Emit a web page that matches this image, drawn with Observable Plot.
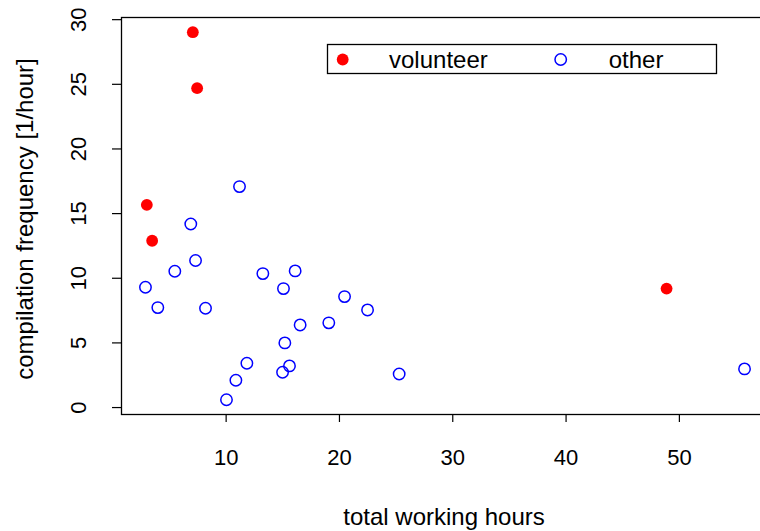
<!DOCTYPE html>
<html><head><meta charset="utf-8">
<script src="https://cdn.jsdelivr.net/npm/d3@7"></script>
<script src="https://cdn.jsdelivr.net/npm/@observablehq/plot@0.6"></script>
<style>
body{margin:0;background:#fff;overflow:hidden}
#chart{position:relative;width:760px;height:531px}
</style>
</head><body><div id="chart"></div>
<script>
// ---- data ----
const volunteerHours = [7.06, 7.44, 3.0, 3.47, 48.87];
const volunteerFreq  = [29.03, 24.7, 15.68, 12.9, 9.2];
const otherHours = [11.18, 6.88, 2.88, 5.47, 7.3, 3.97, 8.18, 13.24, 16.09, 15.06, 20.45, 22.48, 16.53, 19.06, 15.18, 11.83, 15.59, 14.98, 10.86, 10.03, 25.27, 55.75];
const otherFreq  = [17.09, 14.2, 9.3, 10.54, 11.37, 7.73, 7.68, 10.36, 10.57, 9.2, 8.58, 7.55, 6.39, 6.55, 5.0, 3.43, 3.22, 2.73, 2.11, 0.6, 2.6, 2.99];
const xTicks = [10, 20, 30, 40, 50];
const yTicks = [0, 5, 10, 15, 20, 25, 30];
const groups = ["volunteer", "other"];
const xTitle = "total working hours";
const yTitle = "compilation frequency [1/hour]";

const volunteer = volunteerHours.map((h, i) => ({hours: h, freq: volunteerFreq[i]}));
const other = otherHours.map((h, i) => ({hours: h, freq: otherFreq[i]}));

// R-style 4% padded ranges
function pad(vals) {
  const [a, b] = d3.extent(vals);
  const r = b - a;
  return [a - 0.04 * r, b + 0.04 * r];
}
const xDom = pad([...volunteerHours, ...otherHours]);
const yDom = pad([...volunteerFreq, ...otherFreq]);

const FONT = "'Liberation Sans', Arial, Helvetica, sans-serif";
const FS = 22;   // tick labels
const FT = 24;   // titles and legend

const plot = Plot.plot({
  width: 760,
  height: 531,
  marginLeft: 121,
  marginRight: -8,
  marginTop: 17,
  marginBottom: 117,
  style: {fontFamily: FONT, fontSize: FS + "px", background: "white", color: "black", overflow: "visible"},
  x: {domain: xDom},
  y: {domain: yDom},
  marks: [
    Plot.frame({stroke: "black", strokeWidth: 1.3}),
    Plot.axisX(xTicks, {tickSize: 8, tickPadding: 27, fontSize: FS, label: null, stroke: "black", strokeWidth: 1.2}),
    Plot.axisY(yTicks, {tickSize: 9, tickFormat: () => "", label: null, stroke: "black", strokeWidth: 1.2}),
    Plot.axisY(yTicks, {tickSize: 0, tickPadding: 43, fontSize: FS, label: null, rotate: -90, textAnchor: "middle", lineAnchor: "middle"}),
    Plot.dot(other, {x: "hours", y: "freq", r: 5.7, stroke: "#0000ff", strokeWidth: 1.5, fill: "none"}),
    Plot.dot(volunteer, {x: "hours", y: "freq", r: 5.9, fill: "#ff0000", stroke: "none"})
  ]
});
document.getElementById("chart").appendChild(plot);

// axis titles and legend
const svg = d3.select(plot);
svg.append("text").attr("x", 444).attr("y", 517).attr("dy", "0.35em")
  .attr("text-anchor", "middle").attr("font-size", FT).attr("font-family", FONT).attr("fill", "black").text(xTitle);
svg.append("text").attr("transform", "translate(25,219) rotate(-90)").attr("dy", "0.35em")
  .attr("text-anchor", "middle").attr("font-size", FT).attr("font-family", FONT).attr("fill", "black").text(yTitle);

const lg = svg.append("g");
lg.append("rect").attr("x", 327.5).attr("y", 44.5).attr("width", 389).attr("height", 29)
  .attr("fill", "white").attr("stroke", "black").attr("stroke-width", 1.3);
lg.append("circle").attr("cx", 342.7).attr("cy", 59.5).attr("r", 5.9).attr("fill", "#ff0000");
lg.append("circle").attr("cx", 560.7).attr("cy", 59.5).attr("r", 5.7).attr("fill", "none").attr("stroke", "#0000ff").attr("stroke-width", 1.5);
lg.append("text").attr("x", 389).attr("y", 59.5).attr("dy", "0.35em").attr("text-anchor", "start").attr("font-size", FT).attr("font-family", FONT).attr("fill", "black").text(groups[0]);
lg.append("text").attr("x", 608.7).attr("y", 59.5).attr("dy", "0.35em").attr("text-anchor", "start").attr("font-size", FT).attr("font-family", FONT).attr("fill", "black").text(groups[1]);
</script>
</body></html>
